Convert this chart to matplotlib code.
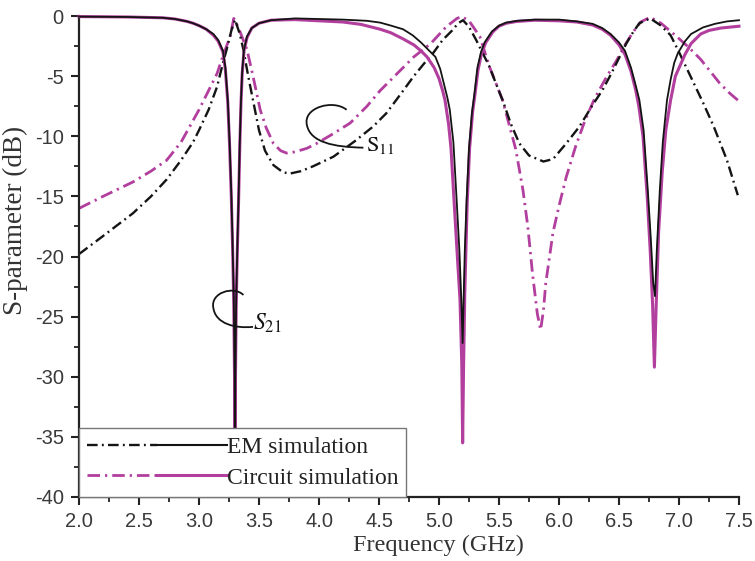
#!/usr/bin/python3

import matplotlib
matplotlib.use('Agg')
import matplotlib.pyplot as plt
from matplotlib.ticker import MultipleLocator, FormatStrFormatter
from matplotlib.legend_handler import HandlerTuple
from matplotlib.path import Path
from matplotlib.patches import PathPatch
from matplotlib.lines import Line2D

# EM simulation, S21 (solid black)
em_s21_f = [2.0, 2.4, 2.7, 2.8, 2.9, 2.95, 3.0, 3.06, 3.12, 3.16, 3.2, 3.22, 3.24, 3.255, 3.27, 3.28,
            3.29, 3.297, 3.30, 3.303, 3.31, 3.32, 3.33, 3.34, 3.35, 3.36, 3.375, 3.40, 3.44, 3.50,
            3.6, 3.8, 4.0, 4.2, 4.4, 4.51, 4.6, 4.7, 4.78, 4.85, 4.92, 4.97, 5.01, 5.04, 5.07, 5.09,
            5.12, 5.147, 5.17, 5.186, 5.197, 5.205, 5.215, 5.23, 5.25, 5.275, 5.295, 5.32, 5.35,
            5.38, 5.44, 5.5, 5.56, 5.65, 5.8, 6.0, 6.15, 6.28, 6.36, 6.43, 6.5, 6.55, 6.6, 6.64,
            6.67, 6.705, 6.74, 6.765, 6.785, 6.80, 6.815, 6.84, 6.865, 6.9, 6.93, 6.96, 6.99, 7.05,
            7.1, 7.2, 7.3, 7.4, 7.5]
em_s21_db = [-0.05, -0.08, -0.15, -0.25, -0.45, -0.6, -0.8, -1.1, -1.5, -2.0, -2.9, -4.3, -7.0, -10.5,
             -15.0, -19.0, -23.5, -30.0, -38.0, -30.0, -23.5, -19.0, -15.0, -10.5, -7.0, -4.6, -2.8,
             -1.7, -1.0, -0.6, -0.35, -0.2, -0.25, -0.3, -0.4, -0.55, -0.8, -1.1, -1.6, -2.2, -2.9,
             -3.4, -4.4, -5.6, -6.8, -7.8, -10.5, -15.3, -19.5, -23.6, -27.2, -23.6, -19.5, -15.3,
             -11.0, -8.0, -6.5, -4.3, -3.0, -2.2, -1.3, -0.8, -0.55, -0.4, -0.3, -0.3, -0.45, -0.65,
             -1.0, -1.5, -2.2, -2.9, -4.3, -5.8, -7.0, -9.5, -14.5, -18.5, -22.2, -23.3, -19.5,
             -14.5, -10.5, -7.0, -5.3, -3.9, -3.1, -2.1, -1.5, -0.95, -0.65, -0.45, -0.35]

# circuit simulation, S21 (solid magenta)
circ_s21_f = [2.0, 2.4, 2.7, 2.8, 2.9, 2.95, 3.0, 3.06, 3.12, 3.16, 3.2, 3.22, 3.24, 3.255, 3.27, 3.28,
              3.29, 3.297, 3.30, 3.303, 3.31, 3.32, 3.33, 3.34, 3.35, 3.36, 3.375, 3.40, 3.44, 3.50,
              3.6, 3.8, 4.0, 4.2, 4.35, 4.51, 4.6, 4.7, 4.79, 4.85, 4.9, 4.96, 5.0, 5.03, 5.05, 5.08,
              5.1, 5.125, 5.15, 5.175, 5.19, 5.197, 5.205, 5.215, 5.235, 5.255, 5.28, 5.30, 5.325,
              5.355, 5.39, 5.45, 5.5, 5.56, 5.65, 5.8, 6.0, 6.15, 6.28, 6.36, 6.43, 6.5, 6.55, 6.6,
              6.64, 6.665, 6.7, 6.735, 6.76, 6.78, 6.795, 6.81, 6.83, 6.86, 6.89, 6.93, 6.97, 7.05,
              7.1, 7.18, 7.25, 7.35, 7.5]
circ_s21_db = [-0.05, -0.08, -0.15, -0.25, -0.45, -0.6, -0.8, -1.1, -1.6, -2.1, -3.0, -4.5, -7.2, -10.8,
               -15.3, -19.3, -24.0, -31.0, -38.0, -31.0, -24.0, -19.3, -15.3, -10.8, -7.2, -4.8, -2.9,
               -1.8, -1.0, -0.6, -0.35, -0.3, -0.4, -0.5, -0.7, -1.1, -1.4, -1.9, -2.4, -2.9, -3.4,
               -4.3, -5.2, -6.2, -7.0, -9.0, -11.0, -15.3, -19.5, -23.6, -29.0, -35.5, -29.0, -23.0,
               -15.5, -11.0, -8.0, -6.5, -4.5, -3.1, -2.2, -1.3, -0.85, -0.6, -0.45, -0.35, -0.4, -0.5,
               -0.75, -1.1, -1.6, -2.4, -3.2, -4.6, -6.2, -7.5, -10.0, -15.0, -19.5, -24.0, -29.2,
               -24.0, -18.0, -13.0, -9.5, -7.0, -5.0, -3.2, -2.3, -1.5, -1.2, -1.0, -0.85]

# EM simulation, S11 (dash-dot black)
em_s11_f = [2.0, 2.2, 2.45, 2.6, 2.73, 2.85, 2.95, 3.0, 3.08, 3.15, 3.2, 3.23, 3.27, 3.30, 3.34, 3.37,
            3.41, 3.45, 3.5, 3.55, 3.62, 3.7, 3.76, 3.85, 3.95, 4.12, 4.3, 4.45, 4.56, 4.68, 4.79,
            4.88, 4.95, 5.03, 5.11, 5.16, 5.2, 5.25, 5.31, 5.36, 5.42, 5.47, 5.53, 5.6, 5.67, 5.75,
            5.87, 5.95, 6.06, 6.17, 6.28, 6.36, 6.43, 6.5, 6.56, 6.62, 6.67, 6.76, 6.85, 6.93, 7.0,
            7.1, 7.2, 7.29, 7.4, 7.49]
em_s11_db = [-19.8, -18.3, -16.4, -15.0, -13.6, -12.0, -10.5, -9.5, -7.8, -5.9, -3.9, -2.8, -1.2, -0.3,
             -1.5, -2.8, -5.0, -7.0, -9.5, -11.2, -12.4, -13.0, -13.1, -12.9, -12.5, -11.7, -10.4,
             -9.2, -8.1, -6.5, -5.0, -3.9, -3.1, -2.0, -1.2, -0.6, -0.35, -0.9, -2.0, -3.0, -4.2,
             -5.5, -7.0, -9.0, -10.6, -11.6, -12.1, -11.9, -10.6, -9.2, -7.4, -6.2, -4.9, -3.5, -2.3,
             -1.3, -0.6, -0.2, -0.8, -1.6, -3.0, -5.1, -7.2, -9.2, -12.0, -14.9]

# circuit simulation, S11 (dash-dot magenta)
circ_s11_f = [2.0, 2.2, 2.45, 2.6, 2.73, 2.85, 3.0, 3.08, 3.15, 3.2, 3.26, 3.29, 3.33, 3.4, 3.45, 3.51,
              3.56, 3.62, 3.68, 3.73, 3.8, 3.9, 3.98, 4.1, 4.26, 4.4, 4.51, 4.65, 4.79, 4.93, 5.06,
              5.15, 5.19, 5.25, 5.34, 5.42, 5.53, 5.64, 5.7, 5.74, 5.78, 5.82, 5.847, 5.87, 5.89, 5.95,
              6.0, 6.06, 6.14, 6.22, 6.3, 6.4, 6.48, 6.55, 6.62, 6.68, 6.76, 6.85, 6.98, 7.08, 7.18,
              7.26, 7.34, 7.42, 7.49]
circ_s11_db = [-16.0, -15.0, -13.8, -12.9, -12.0, -10.5, -7.8, -6.2, -4.8, -3.3, -1.7, -0.2, -1.0, -2.8,
               -5.0, -7.8, -9.3, -10.6, -11.2, -11.4, -11.3, -11.0, -10.6, -9.9, -8.9, -7.5, -6.2,
               -4.8, -3.4, -2.3, -0.9, -0.2, -0.05, -0.4, -1.7, -4.2, -7.0, -11.1, -14.5, -17.5, -21.5,
               -24.8, -26.1, -24.5, -22.2, -18.0, -15.8, -13.4, -10.8, -8.6, -6.8, -5.0, -3.7, -2.4,
               -1.3, -0.5, -0.1, -0.6, -1.7, -2.6, -3.6, -4.6, -5.6, -6.4, -7.0]

xticks = [2.0, 2.5, 3.0, 3.5, 4.0, 4.5, 5.0, 5.5, 6.0, 6.5, 7.0, 7.5]
yticks = [0, -5, -10, -15, -20, -25, -30, -35, -40]

BLACK = '#141414'
MAGENTA = '#b23e9e'
DASHDOT = (0, (4.5, 1.8, 0.8, 1.8))
SERIF = ['Liberation Serif', 'DejaVu Serif']
SANS = ['Liberation Sans', 'DejaVu Sans']

plt.rcParams['mathtext.fontset'] = 'stix'


def curl(ax, verts):
    # hand drawn loop pointing at a group of curves
    codes = [Path.MOVETO, Path.CURVE4, Path.CURVE4, Path.CURVE4,
             Path.CURVE4, Path.CURVE4, Path.CURVE4]
    ax.add_patch(PathPatch(Path(verts, codes), facecolor='none', edgecolor=BLACK,
                           linewidth=1.3, zorder=4))


fig = plt.figure(figsize=(7.55, 5.61), dpi=100)
ax = fig.add_axes([79/755, 64/561, 660/755, 481/561])

kw = dict(clip_on=False)
ax.plot(circ_s11_f, circ_s11_db, color=MAGENTA, linestyle=DASHDOT, linewidth=2.0, zorder=2, **kw)
ax.plot(em_s11_f, em_s11_db, color=BLACK, linestyle=DASHDOT, linewidth=1.7, zorder=2.5, **kw)
ax.plot(circ_s21_f, circ_s21_db, color=MAGENTA, linewidth=2.2, zorder=3, **kw)
ax.plot(em_s21_f, em_s21_db, color=BLACK, linewidth=1.3, zorder=3.5, **kw)

ax.set_xlim(2.0, 7.5)
ax.set_ylim(-40, 0)
ax.xaxis.set_minor_locator(MultipleLocator(0.25))
ax.yaxis.set_minor_locator(MultipleLocator(2.5))
ax.set_xticks(xticks)
ax.set_yticks(yticks)
ax.xaxis.set_major_formatter(FormatStrFormatter('%.1f'))
ax.yaxis.set_major_formatter(FormatStrFormatter('%d'))
ax.tick_params(which='major', direction='out', length=6, width=1.5, labelsize=14.5,
               colors='#222222', pad=5)
ax.tick_params(which='minor', direction='out', length=3.5, width=1.3, colors='#222222')
for lab in ax.get_xticklabels() + ax.get_yticklabels():
    lab.set_family(SANS)
    lab.set_color('#3a3a3a')

for side in ['top', 'right']:
    ax.spines[side].set_visible(False)
for side in ['left', 'bottom']:
    ax.spines[side].set_linewidth(1.6)
    ax.spines[side].set_color('#222222')

ax.set_xlabel('Frequency (GHz)', family=SERIF, fontsize=17.5, color='#333333')
ax.xaxis.set_label_coords(0.545, -0.078)
ax.set_ylabel('S-parameter (dB)', family=SERIF, fontsize=19.5, color='#333333')
ax.yaxis.set_label_coords(-0.077, 0.575)

# S11 and S21 markers
curl(ax, [(4.23, -7.8), (4.12, -6.9), (3.86, -7.6), (3.90, -9.1),
          (3.93, -10.5), (4.12, -10.9), (4.37, -10.95)])
ax.text(4.39, -11.2, r'$\mathrm{S}_{11}$', fontsize=16, color=BLACK, zorder=4)
curl(ax, [(3.37, -23.2), (3.29, -22.4), (3.09, -23.0), (3.12, -24.3),
          (3.14, -25.6), (3.30, -26.0), (3.45, -25.85)])
ax.text(3.45, -26.1, r'$S_{21}$', fontsize=17, color=BLACK, zorder=4)

em_handle = (Line2D([], [], color=BLACK, linestyle=DASHDOT, linewidth=1.7),
             Line2D([], [], color=BLACK, linewidth=1.5))
circ_handle = (Line2D([], [], color=MAGENTA, linestyle=DASHDOT, linewidth=2.0),
               Line2D([], [], color=MAGENTA, linewidth=2.2))
leg = ax.legend([em_handle, circ_handle], ['EM simulation', 'Circuit simulation'],
                handler_map={tuple: HandlerTuple(ndivide=None, pad=0)},
                loc='lower left', bbox_to_anchor=(0, 0), borderaxespad=0,
                handlelength=5.9, handletextpad=0, labelspacing=0.4,
                borderpad=0.35, fancybox=False, framealpha=1,
                prop={'family': SERIF, 'size': 17})
leg.get_frame().set_edgecolor('#777777')
leg.get_frame().set_linewidth(1.0)
leg.set_zorder(10)
for t in leg.get_texts():
    t.set_color('#222222')

plt.savefig('out.png', dpi=100)
